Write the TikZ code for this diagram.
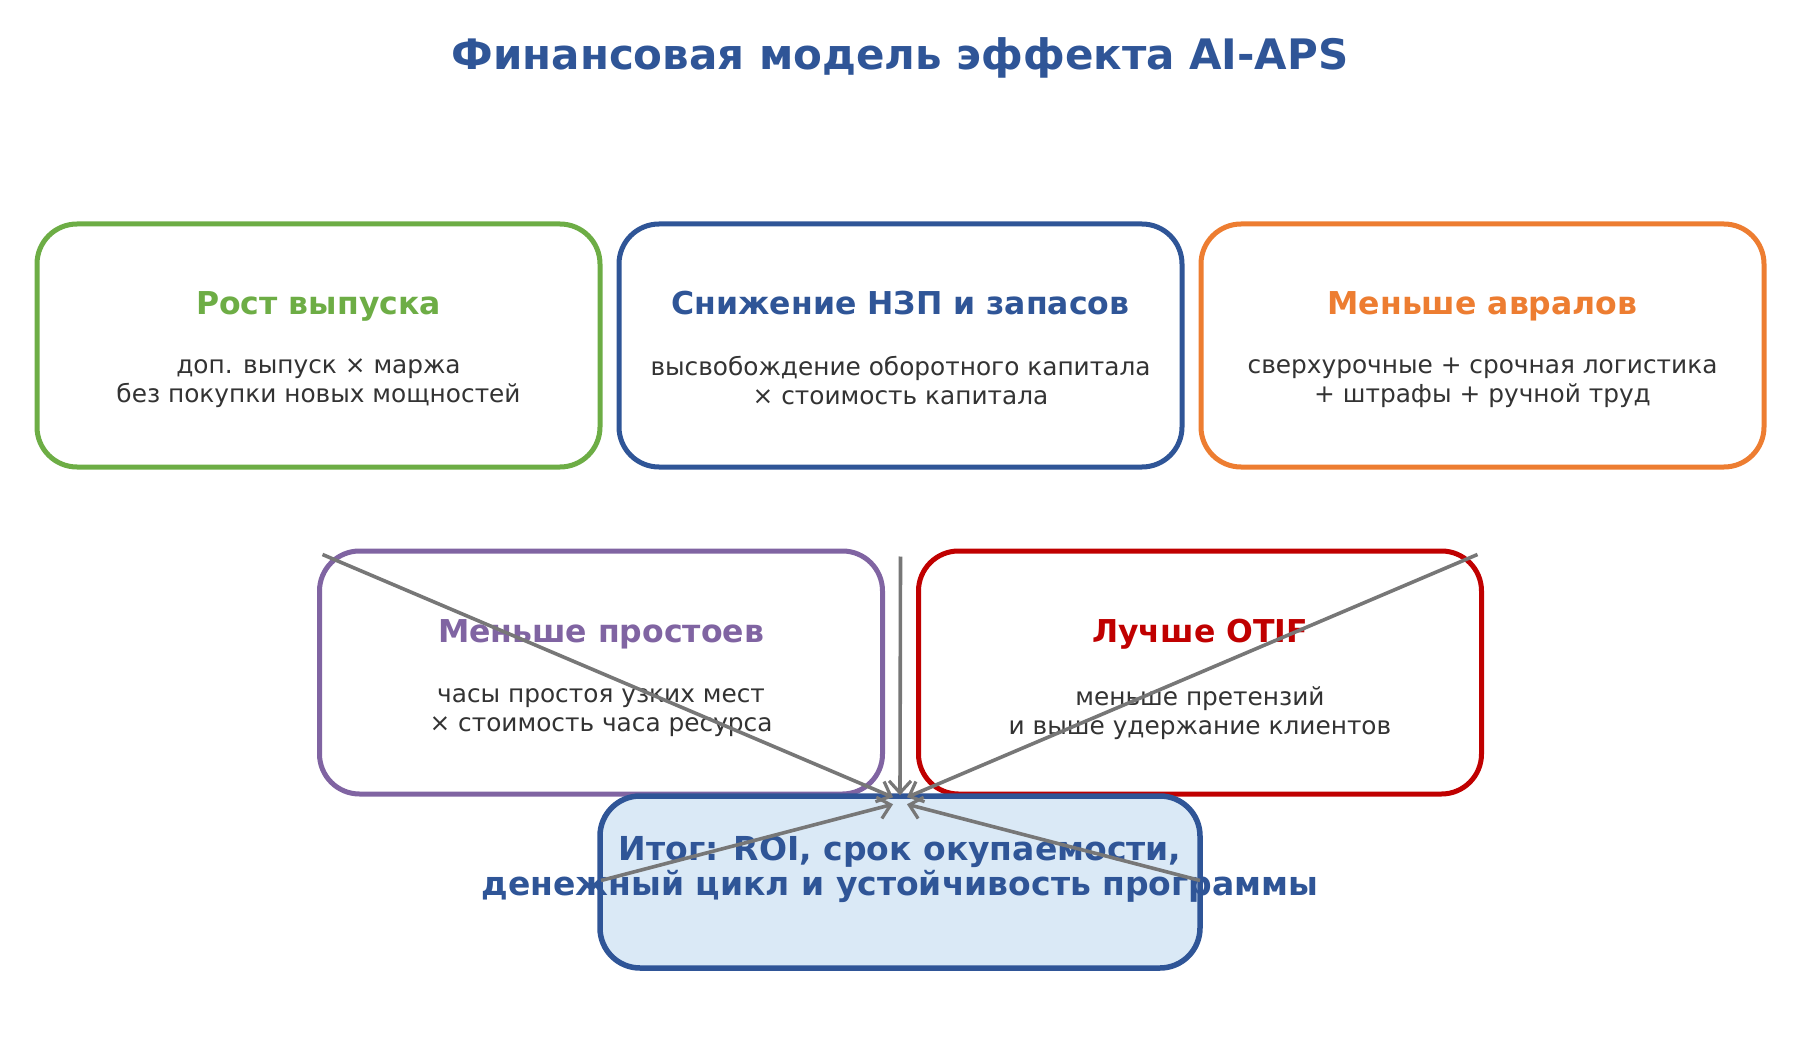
\documentclass[tikz,border=0pt]{standalone}
\usepackage{fontspec}
\setmainfont{DejaVu Sans}
\usetikzlibrary{arrows.meta,calc}
\definecolor{cgreen}{HTML}{6DAD45}
\definecolor{cblue}{HTML}{2F5597}
\definecolor{corange}{HTML}{ED7D31}
\definecolor{cpurple}{HTML}{8064A2}
\definecolor{cred}{HTML}{C00000}
\definecolor{cfill}{HTML}{DAE9F6}
\definecolor{ctext}{HTML}{333333}
\definecolor{carrow}{HTML}{777777}
\tikzset{
  card/.style={draw=#1, line width=5pt, rounded corners=40pt, fill=white,
    minimum width=563pt, minimum height=243pt, inner sep=0pt},
  head/.style={text=#1, font=\fontsize{31.5}{36}\selectfont\bfseries, inner sep=0pt,
    text height=23pt, text depth=7pt},
  body/.style={text=ctext, font=\fontsize{24.8}{29}\selectfont, align=center, inner sep=0pt,
    execute at begin node=\strut, execute at end node=\strut},
  link/.style={draw=carrow, line width=3.6pt, -{Straight Barb[length=12pt,width=22pt,line width=3.2pt]}},
}
\begin{document}
\begin{tikzpicture}[x=1pt,y=-1pt]
\useasboundingbox (0,0) rectangle (1800,1059);
\node[text=cblue, font=\fontsize{42}{50}\selectfont\bfseries] (title) at (900,58) {Финансовая модель эффекта AI-APS};

% top row
\node[card=cgreen] (g) at (318.5,345.5) {};
\node[card=cblue] (b) at (900.5,345.5) {};
\node[card=corange] (o) at (1482.5,345.5) {};
% second row
\node[card=cpurple] (p) at (601,672.5) {};
\node[card=cred] (r) at (1200,672.5) {};
% result
\node[draw=cblue, line width=5.5pt, rounded corners=40pt, fill=cfill,
  minimum width=600pt, minimum height=172pt, inner sep=0pt] (res) at (900,882) {};

% texts
\node[head=cgreen] (gh) at ($(g.north)+(0,85)$) {Рост выпуска};
\node[body] (gb) at ($(g.north)+(0,163.5)$) {доп. выпуск × маржа\\без покупки новых мощностей};
\node[head=cblue] (bh) at ($(b.north)+(0,85)$) {Снижение НЗП и запасов};
\node[body] (bb) at ($(b.north)+(0,163.5)$) {высвобождение оборотного капитала\\× стоимость капитала};
\node[head=corange] (oh) at ($(o.north)+(0,85)$) {Меньше авралов};
\node[body] (ob) at ($(o.north)+(0,163.5)$) {сверхурочные + срочная логистика\\+ штрафы + ручной труд};
\node[head=cpurple] (ph) at ($(p.north)+(0,86)$) {Меньше простоев};
\node[body] (pb) at ($(p.north)+(0,166)$) {часы простоя узких мест\\× стоимость часа ресурса};
\node[head=cred] (rh) at ($(r.north)+(0,86)$) {Лучше OTIF};
\node[body] (rb) at ($(r.north)+(0,166)$) {меньше претензий\\и выше удержание клиентов};
\node[text=cblue, font=\fontsize{33}{35}\selectfont\bfseries, align=center, inner sep=0pt] (resh) at ($(res.north)+(0,76)$) {Итог: ROI, срок окупаемости,\\денежный цикл и устойчивость программы};

% connector endpoints
\coordinate (s1) at ($(g.south)+(4,85)$);
\coordinate (s2) at ($(b.south)+(0,87)$);
\coordinate (s3) at ($(o.south)+(-5,85)$);
\coordinate (s4) at ($(p.south)+(0,84)$);
\coordinate (s5) at ($(r.south)+(0,84)$);
\coordinate (e1) at ($(res.north)+(-7,4)$);
\coordinate (e2) at ($(res.north)+(0,2)$);
\coordinate (e3) at ($(res.north)+(7,4)$);
\coordinate (e4) at ($(res.north)+(-7,11)$);
\coordinate (e5) at ($(res.north)+(7,11)$);

\draw[link] (s1) -- (e1);
\draw[link] (s2) -- (e2);
\draw[link] (s3) -- (e3);
\draw[link] (s4) -- (e4);
\draw[link] (s5) -- (e5);
\end{tikzpicture}
\end{document}
